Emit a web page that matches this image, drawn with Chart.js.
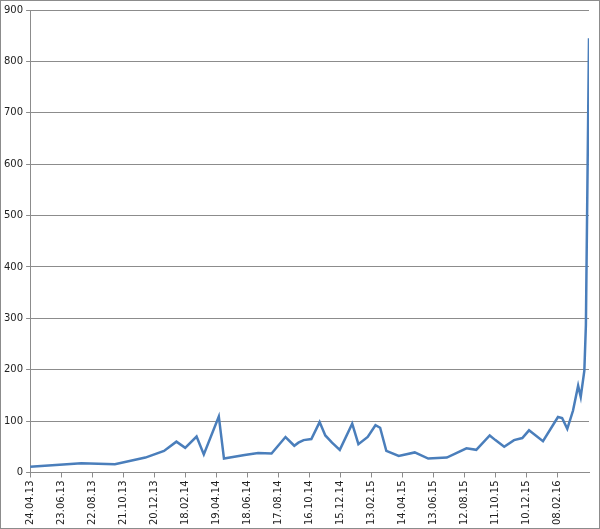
<!DOCTYPE html>
<html>
<head>
<meta charset="utf-8">
<script src="https://cdn.jsdelivr.net/npm/chart.js@4/dist/chart.umd.min.js"></script>
<style>
  body { margin: 0; background: #fff; }
  #wrap { position: relative; width: 598px; height: 527px; border: 1px solid #8c8c8c; }
</style>
</head>
<body>
<div id="wrap"><canvas id="priceChart"></canvas></div>
<script>
// days since 24.04.13 and values
const days = [0, 57, 99, 164, 223, 259, 283, 300, 322, 336, 365, 375, 415, 441, 467, 494, 511, 519,
  529, 544, 560, 571, 584, 599, 623, 635, 653, 668, 677, 689, 713, 744, 770, 806, 844, 863, 889, 900,
  917, 936, 952, 965, 992, 1021, 1029, 1039, 1050, 1060, 1065, 1072, 1075, 1081];
const values = [11, 15, 18, 16, 29, 42, 60, 48, 70, 35, 109, 27, 34, 38, 37, 69, 52, 58,
  63, 65, 98, 72, 58, 44, 95, 55, 69, 92, 87, 42, 32, 39, 27, 29, 47, 44, 72, 63,
  50, 63, 67, 82, 61, 108, 106, 85, 120, 169, 147, 198, 287, 845];
const tickDays = [0, 60, 120, 180, 240, 300, 360, 420, 480, 540, 600, 660, 720, 780, 840, 900, 960, 1020];
const tickLabels = ['24.04.13', '23.06.13', '22.08.13', '21.10.13', '20.12.13', '18.02.14', '19.04.14',
  '18.06.14', '17.08.14', '16.10.14', '15.12.14', '13.02.15', '14.04.15', '13.06.15', '12.08.15',
  '11.10.15', '10.12.15', '08.02.16'];

const ctx = document.getElementById('priceChart').getContext('2d');
new Chart(ctx, {
    type: 'line',
    data: {
        datasets: [{
            data: days.map((d, i) => ({ x: d, y: values[i] })),
            borderColor: '#4a7ebb',
            borderWidth: 2.5,
            pointRadius: 0,
            tension: 0,
            fill: false
        }]
    },
    options: {
        responsive: true,
        maintainAspectRatio: false,
        animation: false,
        layout: { padding: { top: 6, right: 10, left: 0, bottom: 0 } },
        plugins: { legend: { display: false }, tooltip: { enabled: false } },
        scales: {
            x: {
                type: 'linear',
                min: 0,
                max: 1081,
                afterBuildTicks: axis => { axis.ticks = tickDays.map(v => ({ value: v })); },
                ticks: {
                    autoSkip: false,
                    maxRotation: 90,
                    minRotation: 90,
                    color: '#222',
                    font: { family: 'DejaVu Sans', size: 10 },
                    callback: (v) => tickLabels[tickDays.indexOf(v)]
                },
                grid: { drawOnChartArea: false, tickLength: 5, color: '#8c8c8c' },
                border: { color: '#8c8c8c' }
            },
            y: {
                min: 0,
                max: 900,
                ticks: { stepSize: 100, color: '#222', font: { family: 'DejaVu Sans', size: 10 } },
                grid: { color: '#8c8c8c', tickLength: 4 },
                border: { color: '#8c8c8c' }
            }
        }
    }
});
</script>
</body>
</html>
